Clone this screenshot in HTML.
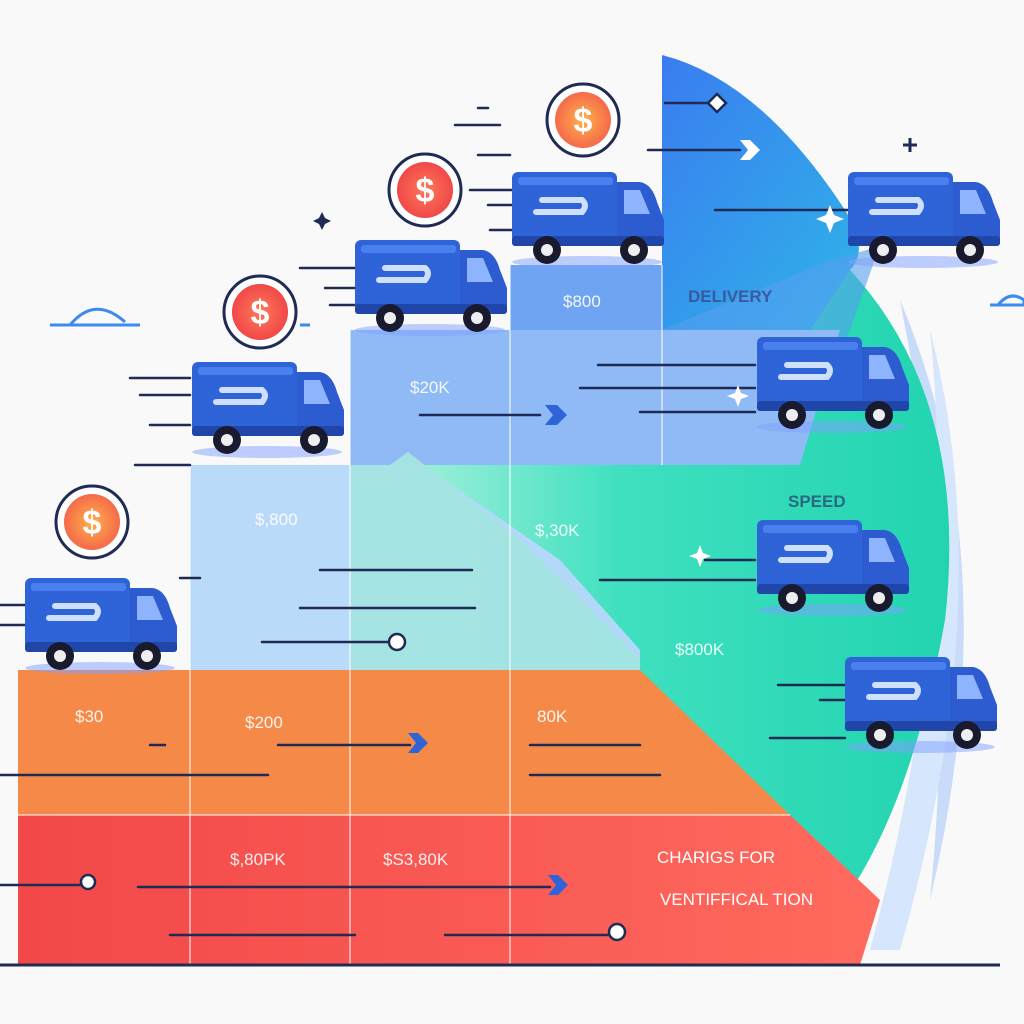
<!DOCTYPE html>
<html><head><style>body{margin:0;background:#f9f9f9}svg{display:block}</style></head><body>
<svg width="1024" height="1024" viewBox="0 0 1024 1024" xmlns="http://www.w3.org/2000/svg" font-family="Liberation Sans, sans-serif">
<defs>
<linearGradient id="g1" x1="0" y1="0" x2="1" y2="0"><stop offset="0" stop-color="#a6f0dc"/><stop offset="0.4" stop-color="#3fe0c0"/><stop offset="1" stop-color="#22d4b0"/></linearGradient>
<linearGradient id="gb" x1="0" y1="0" x2="1" y2="1"><stop offset="0" stop-color="#3a7cf0"/><stop offset="1" stop-color="#2fb4e8"/></linearGradient>
<linearGradient id="gr" x1="0" y1="0" x2="1" y2="0"><stop offset="0" stop-color="#f24848"/><stop offset="1" stop-color="#ff6a5e"/></linearGradient>
<radialGradient id="co" cx="0.5" cy="0.5" r="0.5"><stop offset="0" stop-color="#ffb24a"/><stop offset="1" stop-color="#f56a4a"/></radialGradient>
<radialGradient id="cr" cx="0.5" cy="0.5" r="0.5"><stop offset="0" stop-color="#ff7a5a"/><stop offset="1" stop-color="#f04848"/></radialGradient>
<g id="truck">
<ellipse cx="75" cy="90" rx="75" ry="6" fill="#7fa0ff" opacity="0.5"/>
<rect x="0" y="0" width="105" height="70" rx="6" fill="#2f63d8"/>
<rect x="6" y="5" width="95" height="8" rx="3" fill="#4a80ee"/>
<path d="M105 10 H128 Q140 12 145 30 L152 48 V72 H105 Z" fill="#2d5bd0"/>
<path d="M112 18 H128 L138 42 H112 Z" fill="#8fb4ff"/>
<path d="M30 28 H70 Q76 33 70 40 H24" fill="none" stroke="#cfe0ff" stroke-width="6" stroke-linecap="round"/>
<rect x="0" y="64" width="152" height="10" rx="3" fill="#1f46a8"/>
<circle cx="35" cy="78" r="14" fill="#1a1a2e"/><circle cx="35" cy="78" r="6" fill="#eee"/>
<circle cx="122" cy="78" r="14" fill="#1a1a2e"/><circle cx="122" cy="78" r="6" fill="#eee"/>
</g>
</defs>
<!-- light blue crescent -->
<path d="M900 300 Q1010 560 930 900 Q960 600 900 300Z" fill="#c8dcfa"/>
<path d="M930 330 Q1000 600 900 950 L870 950 Q960 620 930 330Z" fill="#d6e6fc"/>
<!-- green circle -->
<path d="M400 460 Q620 250 850 270 Q970 400 945 620 Q900 870 790 960 L420 960 Z" fill="url(#g1)"/>
<!-- blue shape -->
<path d="M662 55 Q760 80 845 210 Q870 250 850 270 Q830 300 810 330 L662 330 Z" fill="url(#gb)"/>
<path d="M830 260 Q870 250 880 245 L850 330 L800 440 L662 465 L662 330 Z" fill="#55a0ee" opacity="0.6"/>
<!-- steps -->
<rect x="510" y="265" width="152" height="65" fill="#6fa4f2"/>
<path d="M350 330 H840 L800 465 H350 Z" fill="#8fbaf6"/>
<path d="M190 465 H390 L408 452 L430 470 L560 560 L640 650 L640 670 H190 Z" fill="#b6d8fa" opacity="0.95"/>
<path d="M350 465 H390 L408 452 L520 540 L640 660 V670 H350Z" fill="#9de8d8" opacity="0.7"/>
<!-- orange -->
<path d="M18 670 H640 L790 815 H18 Z" fill="#f58a48"/>
<!-- red -->
<path d="M18 815 H790 L880 900 L860 965 H18 Z" fill="url(#gr)"/>
<!-- grid lines -->
<g stroke="#ffffff" stroke-opacity="0.5" stroke-width="2">
<line x1="190" y1="465" x2="190" y2="965"/><line x1="350" y1="330" x2="350" y2="965"/><line x1="510" y1="265" x2="510" y2="965"/><line x1="662" y1="265" x2="662" y2="465"/>
<line x1="18" y1="815" x2="790" y2="815"/>
</g>
<line x1="0" y1="965" x2="1000" y2="965" stroke="#1f2a55" stroke-width="3"/>
<!-- speed lines -->
<g stroke="#1f2a55" stroke-width="2.5" stroke-linecap="round">
<line x1="478" y1="108" x2="488" y2="108"/><line x1="455" y1="125" x2="500" y2="125"/><line x1="478" y1="155" x2="510" y2="155"/><line x1="470" y1="190" x2="512" y2="190"/><line x1="488" y1="205" x2="512" y2="205"/><line x1="490" y1="230" x2="512" y2="230"/>
<line x1="300" y1="268" x2="355" y2="268"/><line x1="325" y1="288" x2="355" y2="288"/><line x1="330" y1="305" x2="355" y2="305"/>
<line x1="130" y1="378" x2="190" y2="378"/><line x1="140" y1="395" x2="190" y2="395"/><line x1="150" y1="425" x2="190" y2="425"/><line x1="135" y1="465" x2="190" y2="465"/>
<line x1="0" y1="605" x2="25" y2="605"/><line x1="0" y1="625" x2="25" y2="625"/>
<line x1="665" y1="103" x2="710" y2="103"/><line x1="648" y1="150" x2="740" y2="150"/><line x1="715" y1="210" x2="848" y2="210"/>
<line x1="598" y1="365" x2="755" y2="365"/><line x1="580" y1="388" x2="755" y2="388"/><line x1="640" y1="412" x2="755" y2="412"/>
<line x1="420" y1="415" x2="540" y2="415"/>
<line x1="180" y1="578" x2="200" y2="578"/><line x1="320" y1="570" x2="472" y2="570"/><line x1="300" y1="608" x2="475" y2="608"/><line x1="262" y1="642" x2="390" y2="642"/>
<line x1="705" y1="560" x2="755" y2="560"/><line x1="600" y1="580" x2="755" y2="580"/>
<line x1="778" y1="685" x2="845" y2="685"/><line x1="820" y1="700" x2="845" y2="700"/><line x1="770" y1="738" x2="845" y2="738"/>
<line x1="150" y1="745" x2="165" y2="745"/><line x1="278" y1="745" x2="410" y2="745"/><line x1="0" y1="775" x2="268" y2="775"/>
<line x1="530" y1="745" x2="640" y2="745"/><line x1="530" y1="775" x2="660" y2="775"/>
<line x1="0" y1="885" x2="80" y2="885"/><line x1="138" y1="887" x2="550" y2="887"/><line x1="170" y1="935" x2="355" y2="935"/><line x1="445" y1="935" x2="610" y2="935"/>
</g>
<g fill="#fff" stroke="#1f2a55" stroke-width="2.5">
<circle cx="397" cy="642" r="8"/><circle cx="88" cy="882" r="7"/><circle cx="617" cy="932" r="8"/>
<path d="M717 94 l9 9 -9 9 -9 -9Z"/>
</g>
<g fill="#2f63d8"><path d="M545 405 h12 l10 10 -10 10 h-12 l8 -10Z"/><path d="M408 733 h10 l10 10 -10 10 h-10 l8 -10Z"/><path d="M548 875 h10 l10 10 -10 10 h-10 l8 -10Z"/><path d="M740 140 h10 l10 10 -10 10 h-10 l8 -10Z" fill="#fff"/></g>
<!-- small cloud -->
<path d="M50 325 H140 M70 325 Q95 295 125 322" fill="none" stroke="#3d8af0" stroke-width="3"/>
<path d="M300 325 H310" stroke="#3d8af0" stroke-width="3"/>
<path d="M998 305 Q1010 290 1024 300 L1024 305Z M990 305 H1024" fill="none" stroke="#3d8af0" stroke-width="3"/>
<g fill="#1f2a55"><path d="M910 138 v14 M903 145 h14" stroke="#1f2a55" stroke-width="3"/><path d="M322 212 l3 6 6 3 -6 3 -3 6 -3 -6 -6 -3 6 -3Z"/></g>
<g fill="#fff"><path d="M830 205 l4 10 10 4 -10 4 -4 10 -4 -10 -10 -4 10 -4Z"/><path d="M738 385 l3 8 8 3 -8 3 -3 8 -3 -8 -8 -3 8 -3Z"/><path d="M700 545 l3 8 8 3 -8 3 -3 8 -3 -8 -8 -3 8 -3Z"/></g>
<!-- trucks -->
<use href="#truck" x="25" y="578"/>
<use href="#truck" x="192" y="362"/>
<use href="#truck" x="355" y="240"/>
<use href="#truck" x="512" y="172"/>
<use href="#truck" x="848" y="172"/>
<use href="#truck" x="757" y="337"/>
<use href="#truck" x="757" y="520"/>
<use href="#truck" x="845" y="657"/>
<!-- coins -->
<g font-weight="bold" font-size="34" text-anchor="middle" fill="#fff">
<circle cx="92" cy="522" r="36" fill="#fff" stroke="#1f2a55" stroke-width="3"/><circle cx="92" cy="522" r="28" fill="url(#co)"/><text x="92" y="534">$</text>
<circle cx="260" cy="312" r="36" fill="#fff" stroke="#1f2a55" stroke-width="3"/><circle cx="260" cy="312" r="28" fill="url(#cr)"/><text x="260" y="324">$</text>
<circle cx="425" cy="190" r="36" fill="#fff" stroke="#1f2a55" stroke-width="3"/><circle cx="425" cy="190" r="28" fill="url(#cr)"/><text x="425" y="202">$</text>
<circle cx="583" cy="120" r="36" fill="#fff" stroke="#1f2a55" stroke-width="3"/><circle cx="583" cy="120" r="28" fill="url(#co)"/><text x="583" y="132">$</text>
</g>
<!-- labels -->
<g font-size="17" fill="#fff" opacity="0.9">
<text x="563" y="307">$800</text><text x="410" y="393">$20K</text><text x="255" y="525">$,800</text><text x="535" y="536">$,30K</text>
<text x="675" y="655">$800K</text><text x="75" y="722">$30</text><text x="245" y="728">$200</text><text x="537" y="722">80K</text>
<text x="230" y="865">$,80PK</text><text x="383" y="865">$S3,80K</text>
</g>
<g font-size="17" font-weight="bold" fill="#3a5aa0"><text x="688" y="302">DELIVERY</text><text x="788" y="507" fill="#2a6a80">SPEED</text></g>
<g font-size="17" fill="#fff"><text x="657" y="863">CHARIGS FOR</text><text x="660" y="905">VENTIFFICAL TION</text></g>
</svg>
</body></html>
